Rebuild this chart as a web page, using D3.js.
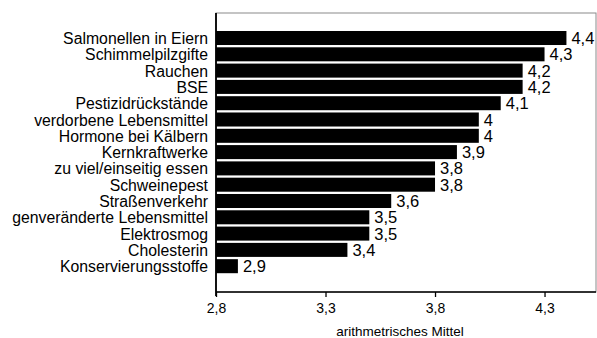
<!DOCTYPE html>
<html><head><meta charset="utf-8">
<script src="https://cdn.jsdelivr.net/npm/d3@7"></script>
<style>body{margin:0;background:#fff}svg{display:block}text{font-family:"Liberation Sans",Arial,sans-serif;fill:#000}</style>
</head><body>
<svg id="c" width="597" height="338"></svg>
<script>
const categories = ["Salmonellen in Eiern","Schimmelpilzgifte","Rauchen","BSE","Pestizidrückstände","verdorbene Lebensmittel","Hormone bei Kälbern","Kernkraftwerke","zu viel/einseitig essen","Schweinepest","Straßenverkehr","genveränderte Lebensmittel","Elektrosmog","Cholesterin","Konservierungsstoffe"];
const values = [4.4,4.3,4.2,4.2,4.1,4,4,3.9,3.8,3.8,3.6,3.5,3.5,3.4,2.9];
const tickValues = [2.8,3.3,3.8,4.3];
const axisTitle = "arithmetrisches Mittel";

const svg = d3.select("#c");
const L = 216, R = 596, T = 13, B = 292;
const x = d3.scaleLinear().domain([2.8, 4.535]).range([L, R]);
const y = d3.scaleBand().domain(categories).range([31, 273.2]).paddingInner(0.14).paddingOuter(0);
const fmt = v => String(v).replace(".", ",");

svg.append("rect").attr("x", L).attr("y", T).attr("width", R - L).attr("height", B - T)
  .attr("fill", "none").attr("stroke", "#8a8a8a").attr("stroke-width", 1);

const data = categories.map((c, i) => ({c, v: values[i]}));
svg.selectAll("rect.bar").data(data).join("rect").attr("class", "bar")
  .attr("x", x(2.8)).attr("y", d => y(d.c)).attr("width", d => x(d.v) - x(2.8)).attr("height", y.bandwidth())
  .attr("fill", "#000");

svg.selectAll("text.val").data(data).join("text").attr("class", "val")
  .attr("x", d => x(d.v) + 5).attr("y", d => y(d.c) + y.bandwidth() / 2 + 6)
  .style("font-size", "16.5px").text(d => fmt(d.v));

svg.selectAll("text.cat").data(data).join("text").attr("class", "cat")
  .attr("x", 208).attr("y", d => y(d.c) + y.bandwidth() / 2 + 6)
  .attr("text-anchor", "end").style("font-size", "15.8px").text(d => d.c);

const ax = svg.append("g").attr("transform", `translate(0,${B})`)
  .call(d3.axisBottom(x).tickValues(tickValues).tickFormat(fmt).tickSize(5).tickPadding(6));
ax.select(".domain").remove();
ax.selectAll(".tick line").attr("stroke", "#000").attr("stroke-width", 1.3);
ax.selectAll(".tick text").style("font-size", "14px").style("font-family", "Liberation Sans, Arial, sans-serif");

svg.append("line").attr("x1", L).attr("x2", R).attr("y1", B).attr("y2", B).attr("stroke", "#000").attr("stroke-width", 1.6);
svg.append("line").attr("x1", L).attr("x2", L).attr("y1", T).attr("y2", B + 4).attr("stroke", "#000").attr("stroke-width", 1.8);

svg.append("text").attr("x", 400).attr("y", 336).attr("text-anchor", "middle")
  .style("font-size", "13.5px").text(axisTitle);
</script>
</body></html>
